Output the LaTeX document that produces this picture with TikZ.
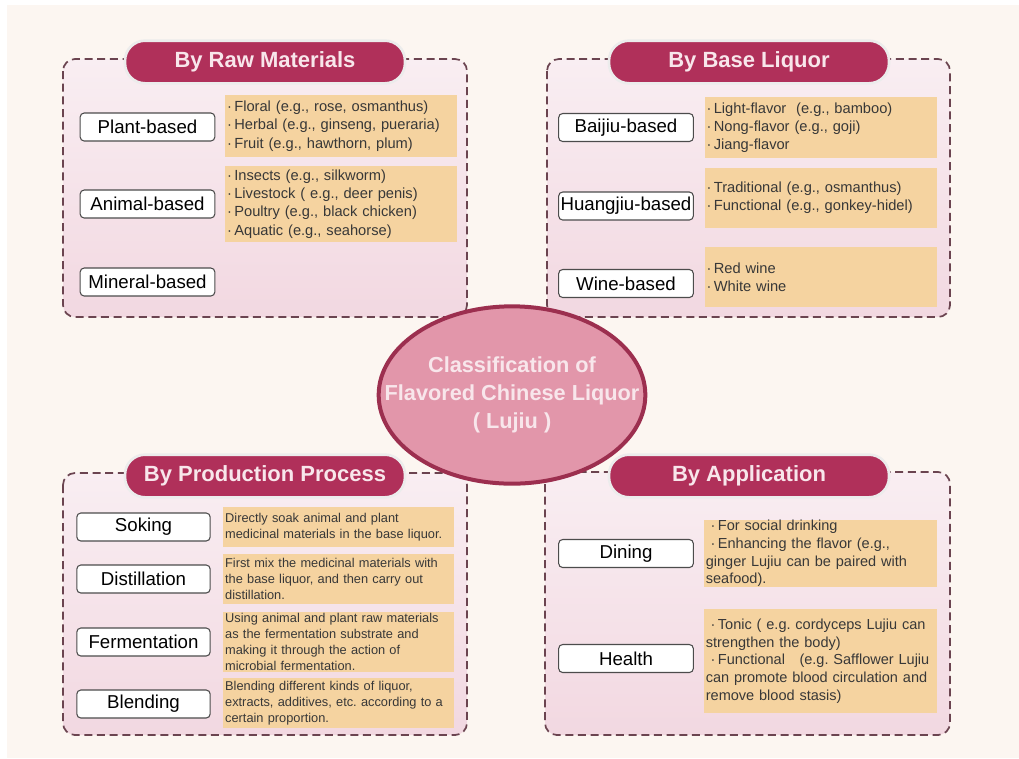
\documentclass[tikz,border=0pt]{standalone}
\usepackage{fontspec}
\setmainfont{Liberation Sans}
\usetikzlibrary{positioning,shapes.geometric}

\definecolor{cream}{HTML}{FCF6F1}
\definecolor{panelline}{HTML}{6B4450}
\definecolor{panelhi}{HTML}{F9EEF2}
\definecolor{panello}{HTML}{F2D8E1}
\definecolor{pilldark}{HTML}{B0305A}
\definecolor{pilllight}{HTML}{CB5476}
\definecolor{tan}{HTML}{F5D3A0}
\definecolor{hubfill}{HTML}{E296AA}
\definecolor{hubline}{HTML}{9C2F4F}
\definecolor{hubtext}{HTML}{F8E6EB}
\definecolor{notetext}{HTML}{383838}

\tikzset{
    panel/.style={draw=panelline, line width=1.3pt, dash pattern=on 6pt off 3.5pt,
        rounded corners=9pt, top color=panelhi, bottom color=panello},
    pill/.style={rounded corners=15pt, minimum width=210pt, minimum height=32pt,
        top color=pilldark, middle color=pilllight, bottom color=pilldark,
        draw=white!85!gray, line width=2pt, text=hubtext,
        font=\fontsize{16.5}{18}\selectfont\bfseries},
    catbox/.style={draw=black!70, fill=white, rounded corners=3pt, line width=0.8pt,
        minimum width=101pt, minimum height=21pt, inner sep=0pt,
        font=\fontsize{14}{16}\selectfont},
    notebox/.style={fill=tan, align=left, inner xsep=1.5pt, inner ysep=0pt,
        text width=171pt, text=notetext, font=\fontsize{11}{13.7}\selectfont},
    procnote/.style={notebox, text width=170pt, font=\fontsize{9.6}{11.9}\selectfont},
    usenote/.style={notebox, text width=172pt, font=\fontsize{10.9}{13.3}\selectfont},
    hub/.style={ellipse, fill=hubfill, draw=hubline, line width=3pt,
        minimum width=200pt, minimum height=133pt},
}

\begin{document}
\frenchspacing
\begin{tikzpicture}[x=0.75pt, y=-0.75pt]
    \useasboundingbox (0,0) rectangle (1019,758);
    \fill[white] (0,0) rectangle (1019,758);
    \fill[cream] (7,5) rectangle (1019,758);

    % the four dashed panels
    \foreach \xa/\ya/\xb/\yb in {63/59/467/317, 547/59/950/317,
                                 63/473/467/735, 545/472/950/735}{%
        \draw[panel] (\xa,\ya) rectangle (\xb,\yb);
    }

    % panel titles
    \foreach \n/\x/\y/\t in {raw/265/62/By Raw Materials,
                             base/749/62/By Base Liquor,
                             process/265/476/By Production Process,
                             use/749/476/By Application}{%
        \node[pill] (\n) at (\x,\y) {\t};
    }

    % by raw materials
    \node[catbox] (plant) at (147.5,127) {Plant-based};
    \node[catbox] (animal) at (147.5,204) {Animal-based};
    \node[catbox] (mineral) at (147.5,282) {Mineral-based};
    \node[notebox, minimum height=46.5pt] (plantnote) at (341,126)
        {·\,Floral (e.g., rose, osmanthus)\\·\,Herbal (e.g., ginseng, pueraria)\\·\,Fruit (e.g., hawthorn, plum)};
    \node[notebox, minimum height=57pt] (animalnote) at (341,204)
        {·\,Insects (e.g., silkworm)\\·\,Livestock ( e.g., deer penis)\\·\,Poultry (e.g., black chicken)\\·\,Aquatic (e.g., seahorse)};

    % by base liquor
    \node[catbox] (baijiu) at (626,127.5) {Baijiu-based};
    \node[catbox] (huangjiu) at (626,206) {Huangjiu-based};
    \node[catbox] (wine) at (626,283.5) {Wine-based};
    \node[notebox, minimum height=46pt] (baijiunote) at (820.5,127.5)
        {·\,Light-flavor\ \ (e.g., bamboo)\\·\,Nong-flavor (e.g., goji)\\·\,Jiang-flavor};
    \node[notebox, minimum height=45pt] (huangjiunote) at (820.5,198)
        {·\,Traditional (e.g., osmanthus)\\·\,Functional (e.g., gonkey-hidel)};
    \node[notebox, minimum height=45pt] (winenote) at (820.5,277)
        {·\,Red wine\\·\,White wine};

    % by production process
    \node[catbox, minimum width=100pt] (soking) at (143.5,527) {Soking};
    \node[catbox, minimum width=100pt] (distil) at (143.5,579) {Distillation};
    \node[catbox, minimum width=100pt] (ferment) at (143.5,642) {Fermentation};
    \node[catbox, minimum width=100pt] (blend) at (143.5,704) {Blending};
    \node[procnote, minimum height=30pt] (sokingnote) at (338.5,527)
        {Directly soak animal and plant\\medicinal materials in the base liquor.};
    \node[procnote, minimum height=37.5pt] (distilnote) at (338.5,579)
        {First mix the medicinal materials with\\the base liquor, and then carry out\\distillation.};
    \node[procnote, minimum height=45pt] (fermentnote) at (338.5,642)
        {Using animal and plant raw materials\\as the fermentation substrate and\\making it through the action of\\microbial fermentation.};
    \node[procnote, minimum height=37.5pt] (blendnote) at (338.5,703)
        {Blending different kinds of liquor,\\extracts, additives, etc. according to a\\certain proportion.};

    % by application
    \node[catbox] (dining) at (626,553.5) {Dining};
    \node[catbox] (health) at (626,658.5) {Health};
    \node[usenote, minimum height=50pt] (diningnote) at (820.5,553.5)
        {\ ·\,For social drinking\\\ ·\,Enhancing the flavor (e.g.,\\ginger Lujiu can be paired with\\seafood).};
    \node[usenote, minimum height=78pt] (healthnote) at (820.5,661)
        {\ ·\,Tonic ( e.g. cordyceps Lujiu can\\strengthen the body)\\\ ·\,Functional\ \ \ (e.g. Safflower Lujiu\\can promote blood circulation and\\remove blood stasis)};

    % centre
    \node[hub] (hub) at (512,395) {};
    \node[align=center, text=hubtext, font=\fontsize{16.3}{21}\selectfont\bfseries]
        (title) at (hub.center) {Classification of\\Flavored Chinese Liquor\\( Lujiu )};
\end{tikzpicture}
\end{document}
